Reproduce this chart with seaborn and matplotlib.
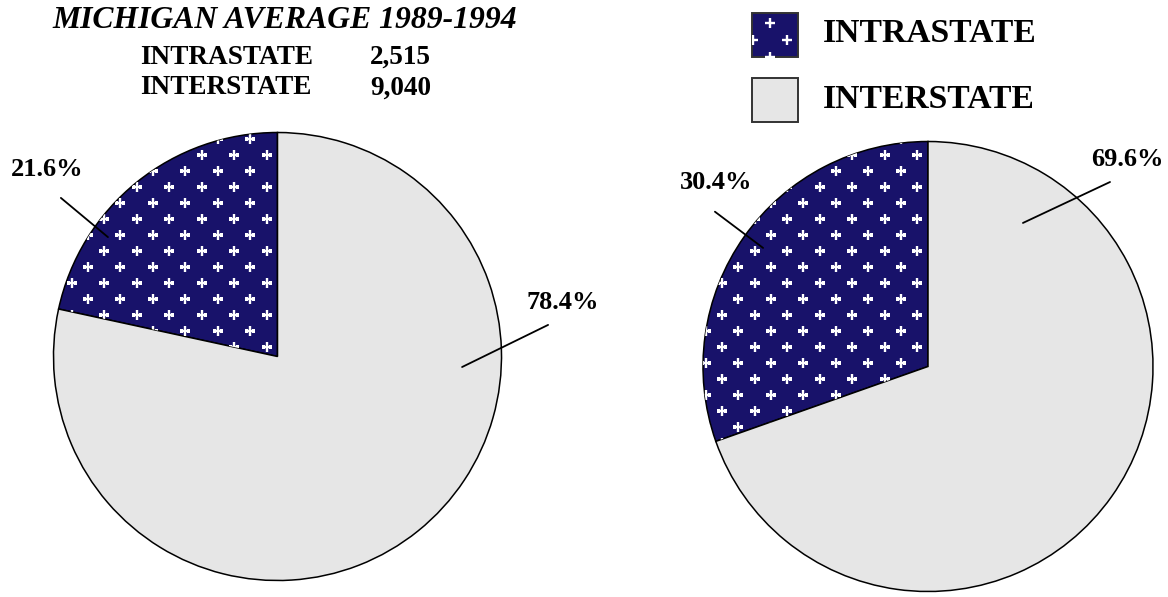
import numpy as np
import matplotlib
matplotlib.use("Agg")
import matplotlib.pyplot as plt
import seaborn as sns
from matplotlib.patches import Rectangle

# ---------------- data ----------------
categories = ["INTRASTATE", "INTERSTATE"]
left_shares = [21.6, 78.4]
right_shares = [30.4, 69.6]
title_text = "MICHIGAN AVERAGE 1989-1994"
avg_names = ["INTRASTATE", "INTERSTATE"]
avg_values = ["2,515", "9,040"]

# ---------------- style ----------------
sns.set_theme(style="white")
plt.rcParams['font.family'] = ['Liberation Serif', 'DejaVu Serif']
plt.rcParams['text.color'] = 'black'

W, H = 1168, 597
fig = plt.figure(figsize=(W / 100, H / 100), dpi=100)
NAVY, LIGHT = '#18126a', '#e6e6e6'
colors = [NAVY, LIGHT]

# overlay axes in pixel coords for free text and legend
ov = fig.add_axes([0, 0, 1, 1], zorder=0)
ov.set_xlim(0, W)
ov.set_ylim(H, 0)
ov.axis('off')


def cross_lattice(x_right, y_top, dx, dy, ncols, nrows):
    xs, ys = [], []
    for j in range(nrows):
        off = 0 if j % 2 == 0 else dx / 2
        for k in range(ncols):
            xs.append(x_right - off - k * dx)
            ys.append(y_top + j * dy)
    return np.array(xs), np.array(ys)


def fmt(v):
    return f"{v:.1f}%"


def draw_pie(cx, cy, R, shares, label_layout):
    m = 1.01
    ax = fig.add_axes([(cx - R * m) / W, (H - cy - R * m) / H, 2 * R * m / W, 2 * R * m / H], zorder=2)
    wedges, _ = ax.pie(shares, colors=colors, startangle=90, counterclock=True, radius=1,
                       wedgeprops=dict(edgecolor='black', linewidth=1.1))
    ax.set_xlim(-m, m)
    ax.set_ylim(-m, m)
    ax.set_aspect('equal')
    ax.axis('off')
    # white cross pattern on the intrastate wedge
    xs, ys = cross_lattice(cx - 11, 155 - 16 * 10, 32.5, 16, 16, 50)
    sc = ax.scatter((xs - cx) / R, (cy - ys) / R, marker='+', s=60, c='white',
                    linewidths=1.7, zorder=3)
    sc.set_clip_path(wedges[0])
    for share, (p0, p1, pt) in zip(shares, label_layout):
        ax.plot([p0[0], p1[0]], [p0[1], p1[1]], color='black', lw=1.3, clip_on=False, zorder=4)
        ax.text(pt[0], pt[1], fmt(share), ha='center', va='center', fontsize=19,
                fontweight='bold', color='black', clip_on=False, zorder=5)
    return ax


left_layout = [((-0.967, 0.708), (-0.757, 0.533), (-1.029, 0.833)),
               ((0.824, -0.047), (1.208, 0.141), (1.275, 0.239))]
right_layout = [((-0.947, 0.688), (-0.733, 0.527), (-0.942, 0.816)),
                ((0.422, 0.638), (0.809, 0.82), (0.884, 0.918))]

draw_pie(277.5, 356.5, 224, left_shares, left_layout)
draw_pie(928, 366.5, 225, right_shares, right_layout)

# title block
ov.text(285, 21, title_text, ha='center', va='center', fontsize=22.8,
        fontweight='bold', fontstyle='italic', color='black')
for i, (n, v) in enumerate(zip(avg_names, avg_values)):
    y = 57 + 31 * i
    ov.text(140, y, n, ha='left', va='center', fontsize=19.6, fontweight='bold', color='black')
    ov.text(370, y, v, ha='left', va='center', fontsize=19.6, fontweight='bold', color='black')

# legend
for i, (cat, col) in enumerate(zip(categories, colors)):
    y0 = 13 + 65 * i
    rect = Rectangle((752, y0), 46, 44, facecolor=col, edgecolor='#333333', lw=1.4, zorder=3)
    ov.add_patch(rect)
    if i == 0:
        lx, ly = cross_lattice(787, 6, 34, 17, 3, 4)
        sc = ov.scatter(lx, ly, marker='+', s=60, c='white', linewidths=1.7, zorder=4)
        sc.set_clip_path(rect)
    ov.text(823, y0 + 21, cat, ha='left', va='center', fontsize=24.2, fontweight='bold', color='black')

fig.savefig("out.png", dpi=100)
